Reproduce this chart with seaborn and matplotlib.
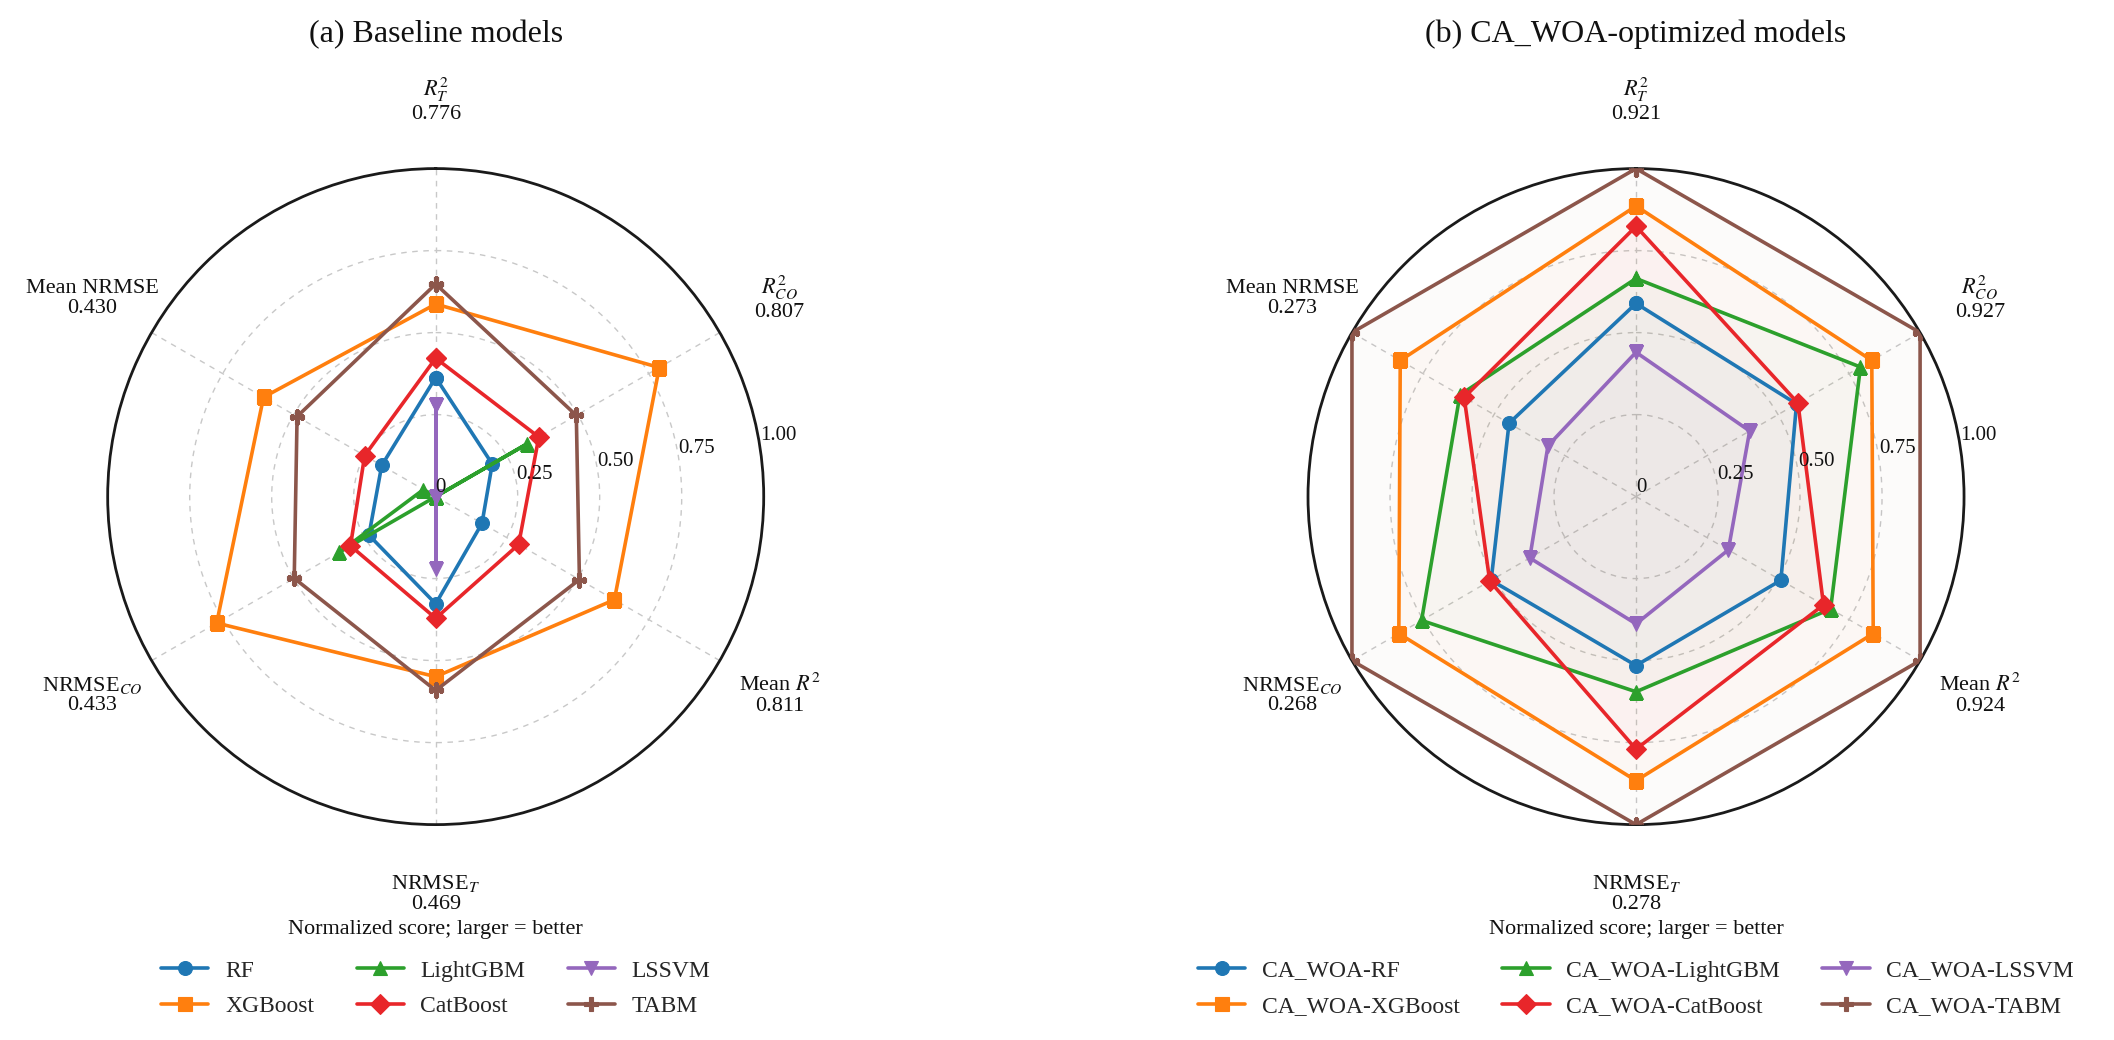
import numpy as np
import matplotlib
matplotlib.use("Agg")
import matplotlib.pyplot as plt
import seaborn as sns

# axes of the radar (clockwise from the top)
axis_names = [r"$R^2_T$", r"$R^2_{CO}$", r"Mean $R^2$", r"NRMSE$_T$", r"NRMSE$_{CO}$", "Mean NRMSE"]
base_best = ["0.776", "0.807", "0.811", "0.469", "0.433", "0.430"]
opt_best = ["0.921", "0.927", "0.924", "0.278", "0.268", "0.273"]

base_models = ["RF", "XGBoost", "LightGBM", "CatBoost", "LSSVM", "TABM"]
opt_models = ["CA_WOA-" + m for m in base_models]

# normalized scores, baseline models
base_rf = [0.363, 0.199, 0.163, 0.327, 0.235, 0.190]
base_xgb = [0.587, 0.787, 0.629, 0.549, 0.771, 0.606]
base_lgbm = [0.0, 0.323, 0.0, 0.0, 0.340, 0.043]
base_cat = [0.422, 0.363, 0.292, 0.371, 0.300, 0.250]
base_lssvm = [0.280, 0.0, 0.0, 0.220, 0.0, 0.0]
base_tabm = [0.648, 0.495, 0.506, 0.591, 0.498, 0.488]

# normalized scores, CA_WOA-optimized models
opt_rf = [0.589, 0.565, 0.510, 0.515, 0.510, 0.447]
opt_xgb = [0.886, 0.830, 0.835, 0.866, 0.835, 0.830]
opt_lgbm = [0.665, 0.790, 0.685, 0.595, 0.755, 0.620]
opt_cat = [0.824, 0.570, 0.660, 0.770, 0.515, 0.605]
opt_lssvm = [0.440, 0.400, 0.325, 0.388, 0.374, 0.310]
opt_tabm = [1.0, 1.0, 1.0, 1.0, 1.0, 1.0]

rticks = [0, 0.25, 0.5, 0.75, 1.0]
rtick_labels = ["0", "0.25", "0.50", "0.75", "1.00"]

colors = ["#1f77b4", "#ff7f0e", "#2ca02c", "#e8262a", "#9467bd", "#8c564b"]
markers = ["o", "s", "^", "D", "v", "P"]

sns.set_theme(style="white")
plt.rcParams["font.family"] = ["serif"]
plt.rcParams["font.serif"] = ["Liberation Serif", "DejaVu Serif"]
plt.rcParams["mathtext.fontset"] = "stix"

angles = np.linspace(0, 2 * np.pi, len(axis_names), endpoint=False)


def draw_panel(ax, series, names, best, title, fill):
    ax.set_theta_offset(np.pi / 2)
    ax.set_theta_direction(-1)
    t = np.append(angles, angles[0])
    for vals, name, c, m in zip(series, names, colors, markers):
        v = np.append(vals, vals[0])
        if fill:
            ax.fill(t, v, color=c, alpha=0.025, zorder=1, linewidth=0)
        sns.lineplot(x=t, y=v, sort=False, estimator=None, color=c, marker=m,
                     markersize=10, linewidth=2.6, markeredgecolor=c,
                     markeredgewidth=0.8, label=name, ax=ax, zorder=3)

    ax.set_ylim(0, 1.0)
    ax.set_yticks(rticks[1:])
    ax.set_yticklabels([])
    ax.set_xticks(angles)
    ax.set_xticklabels([])
    ax.set_xlabel("")
    ax.set_ylabel("")
    ax.grid(True, color="#c8c8c8", linestyle=(0, (4, 4)), linewidth=1.0)
    ax.spines["polar"].set_color("#1a1a1a")
    ax.spines["polar"].set_linewidth(2.0)

    for r, s in zip(rticks, rtick_labels):
        ax.text(np.deg2rad(81), r, s, ha="left", va="bottom", fontsize=15,
                color="#111111", clip_on=False, zorder=5)

    for a, name, b in zip(angles, axis_names, best):
        ax.text(a, 1.21, f"{name}\n{b}", ha="center", va="center", fontsize=16,
                linespacing=1.05, color="#111111", clip_on=False)

    ax.text(0.5, -0.16, "Normalized score; larger = better", transform=ax.transAxes,
            ha="center", va="center", fontsize=16, color="#111111")
    ax.text(0.5, 1.205, title, transform=ax.transAxes, ha="center", va="center",
            fontsize=23, color="#111111")

    leg = ax.legend(loc="center", bbox_to_anchor=(0.5, -0.25), ncol=3, frameon=False,
                    fontsize=17, handlelength=2.0, columnspacing=1.8, labelspacing=0.6,
                    handletextpad=0.7)
    return leg


fig = plt.figure(figsize=(21.14, 10.40), dpi=100)
ax_a = fig.add_axes([0.0509, 0.2071, 0.3104, 0.6308], projection="polar")
ax_b = fig.add_axes([0.6187, 0.2071, 0.3104, 0.6308], projection="polar")

draw_panel(ax_a, [base_rf, base_xgb, base_lgbm, base_cat, base_lssvm, base_tabm],
           base_models, base_best, "(a) Baseline models", fill=False)
draw_panel(ax_b, [opt_rf, opt_xgb, opt_lgbm, opt_cat, opt_lssvm, opt_tabm],
           opt_models, opt_best, "(b) CA_WOA-optimized models", fill=True)

fig.savefig("out.png", dpi=100)
